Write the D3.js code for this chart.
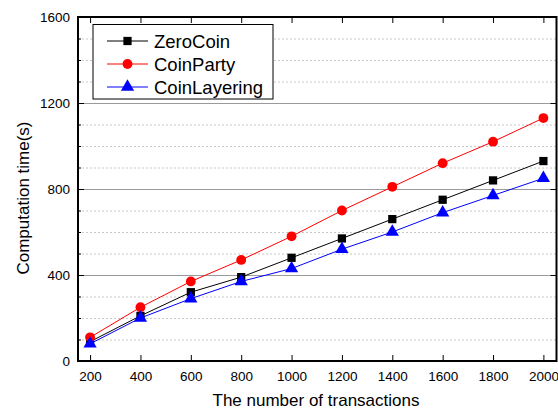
<!DOCTYPE html>
<html><head><meta charset="utf-8">
<script src="https://cdn.jsdelivr.net/npm/d3@7"></script>
<style>body{margin:0;background:#fff}svg{display:block}text{font-family:Arial,"Liberation Sans",sans-serif}</style>
</head><body><svg id="c" width="558" height="411"></svg>
<script>
const xValues = [200,400,600,800,1000,1200,1400,1600,1800,2000];
const zeroCoin = [90,210,320,390,480,570,660,750,840,930];
const coinParty = [110,250,370,470,580,700,810,920,1020,1130];
const coinLayering = [80,200,290,370,430,520,600,690,770,850];
const seriesNames = ["ZeroCoin","CoinParty","CoinLayering"];
const seriesColors = ["#000000","#ff0000","#0000ff"];
const yTicks = [0,400,800,1200,1600];

const svg = d3.select("#c");
const L=78, R=556.5, T=17, B=361;
const x = d3.scaleLinear().domain([152,2052]).range([L,R]);
const y = d3.scaleLinear().domain([0,1600]).range([B,T]);
const fmt = d3.format("d");

// grid
const minor = d3.range(100,1600,100).filter(v=>v%400!==0);
svg.append("g").selectAll("line").data(minor).join("line")
  .attr("x1",L).attr("x2",R).attr("y1",d=>y(d)+0.5).attr("y2",d=>y(d)+0.5)
  .attr("stroke","#c8c8c8").attr("stroke-dasharray","2,2").attr("stroke-width",1);
svg.append("g").selectAll("line").data([400,800,1200]).join("line")
  .attr("x1",L).attr("x2",R).attr("y1",d=>y(d)+0.5).attr("y2",d=>y(d)+0.5)
  .attr("stroke","#9a9a9a").attr("stroke-width",1);

// axes
const yAxis = d3.axisLeft(y).tickValues(yTicks).tickFormat(fmt).tickSizeInner(-6).tickSizeOuter(0).tickPadding(8);
const gy = svg.append("g").attr("transform",`translate(${L},0)`).call(yAxis);
gy.select(".domain").remove();
gy.selectAll("text").attr("font-size",13.5).attr("fill","#000");
gy.selectAll("line").attr("stroke","#000");
const yMinor = d3.axisLeft(y).tickValues(minor).tickSize(-3).tickFormat("");
const gym = svg.append("g").attr("transform",`translate(${L},0)`).call(yMinor);
gym.select(".domain").remove();
const yRight = d3.axisRight(y).tickValues(yTicks).tickSize(-6).tickFormat("");
const gyr = svg.append("g").attr("transform",`translate(${R},0)`).call(yRight);
gyr.select(".domain").remove();

const xAxis = d3.axisBottom(x).tickValues(xValues).tickFormat(fmt).tickSizeInner(-6).tickSizeOuter(0).tickPadding(10);
const gx = svg.append("g").attr("transform",`translate(0,${B})`).call(xAxis);
gx.select(".domain").remove();
gx.selectAll("text").attr("font-size",13.5).attr("fill","#000");
const xTop = d3.axisTop(x).tickValues(xValues).tickSize(-6).tickFormat("");
const gxt = svg.append("g").attr("transform",`translate(0,${T})`).call(xTop);
gxt.select(".domain").remove();

// frame
svg.append("rect").attr("x",L).attr("y",T).attr("width",R-L).attr("height",B-T)
  .attr("fill","none").attr("stroke","#000").attr("stroke-width",2);

// series
const data = [zeroCoin, coinParty, coinLayering];
const line = d3.line().x((d,i)=>x(xValues[i])).y(d=>y(d));
const symbols = [d3.symbolSquare, d3.symbolCircle, d3.symbolTriangle];
const sizes = [68, 76, 76];
data.forEach((s,k)=>{
  svg.append("path").attr("d",line(s)).attr("fill","none").attr("stroke",seriesColors[k]).attr("stroke-width",1);
});
data.forEach((s,k)=>{
  svg.append("g").selectAll("path").data(s).join("path")
    .attr("transform",(d,i)=>`translate(${x(xValues[i])},${y(d)})`)
    .attr("d",d3.symbol().type(symbols[k]).size(sizes[k]))
    .attr("fill",seriesColors[k]);
});

// legend
const lg = svg.append("g");
lg.append("rect").attr("x",93).attr("y",24.5).attr("width",180).attr("height",74.5)
  .attr("fill","#fff").attr("stroke","#000").attr("stroke-width",1);
seriesNames.forEach((n,k)=>{
  const yy = 41 + k*23;
  lg.append("line").attr("x1",107).attr("x2",148).attr("y1",yy).attr("y2",yy).attr("stroke",seriesColors[k]).attr("stroke-width",1);
  lg.append("path").attr("transform",`translate(127.5,${yy})`).attr("d",d3.symbol().type(symbols[k]).size(sizes[k])).attr("fill",seriesColors[k]);
  lg.append("text").attr("x",154).attr("y",yy+6.5).attr("font-size",18.5).text(n);
});

// titles
svg.append("text").attr("x",316).attr("y",406).attr("text-anchor","middle").attr("font-size",17).text("The number of transactions");
svg.append("text").attr("transform",`translate(29,198) rotate(-90)`).attr("text-anchor","middle").attr("font-size",17).text("Computation time(s)");
</script></body></html>
